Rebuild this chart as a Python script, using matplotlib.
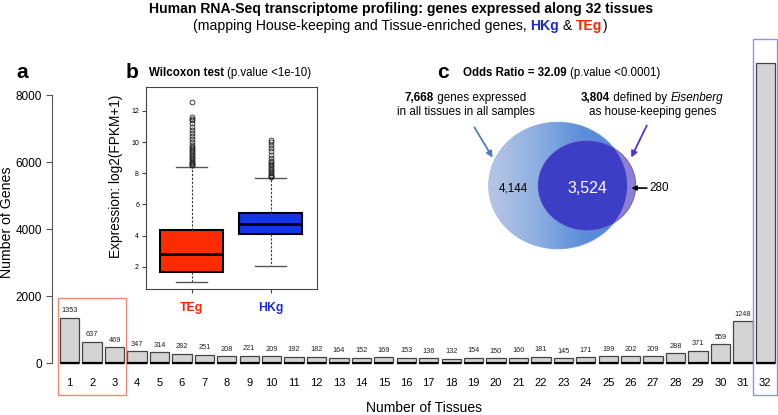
import numpy as np
import matplotlib
matplotlib.use("Agg")
import matplotlib.pyplot as plt
from matplotlib.patches import Circle, Rectangle, FancyArrowPatch
from matplotlib.colors import LinearSegmentedColormap

# panel a: genes expressed in exactly n tissues
tissues = list(range(1, 33))
genes = [1353, 637, 469, 347, 314, 282, 251, 208, 221, 209, 192, 182, 164, 152,
         169, 153, 136, 132, 154, 150, 160, 181, 145, 171, 199, 202, 209, 288,
         371, 559, 1248, 8961]

# panel b: boxplot summaries, log2(FPKM+1)
box_labels = ["TEg", "HKg"]
teg_stats = dict(whislo=1.04, q1=1.68, med=2.80, q3=4.36, whishi=8.42)
hkg_stats = dict(whislo=2.06, q1=4.08, med=4.72, q3=5.47, whishi=7.68)
teg_fliers = [8.5, 8.55, 8.6, 8.65, 8.7, 8.8, 8.9, 9.0, 9.1, 9.2, 9.3, 9.4, 9.5,
              9.6, 9.7, 9.8, 10.0, 10.2, 10.4, 10.6, 10.8, 11.0, 11.2, 11.4,
              11.5, 11.6, 12.6]
hkg_fliers = [7.75, 7.8, 7.85, 7.9, 8.0, 8.1, 8.2, 8.3, 8.4, 8.5, 8.6, 8.7, 8.8,
              9.0, 9.2, 9.4, 9.6, 9.8, 10.0, 10.15]

# panel c: venn counts
only_expressed = 4144
both = 3524
only_hk = 280

plt.rcParams["font.family"] = ["Liberation Sans", "DejaVu Sans"]

W, H = 778, 415
fig = plt.figure(figsize=(W / 100, H / 100), dpi=100)
renderer = fig.canvas.get_renderer()


def fx(x):
    return x / W


def fy(y):
    return 1 - y / H


def text_width(t):
    # measure with a trailing bar so trailing spaces are counted
    s = t.get_text()
    t.set_text(s + "|")
    w1 = t.get_window_extent(renderer).width
    t.set_text("|")
    w2 = t.get_window_extent(renderer).width
    t.set_text(s)
    return w1 - w2


def rich(x, y, parts, size, ha="center", fit=None):
    ts = [fig.text(0, 0, s, fontsize=size, va="center", ha="left", **kw) for s, kw in parts]
    ws = [text_width(t) for t in ts]
    if fit:
        k = fit / sum(ws)
        for t in ts:
            t.set_fontsize(size * k)
        ws = [text_width(t) for t in ts]
    x0 = x - sum(ws) / 2 if ha == "center" else x
    for t, w in zip(ts, ws):
        t.set_position((fx(x0), fy(y)))
        x0 += w
    return ts


# ---------------- panel a ----------------
ax = fig.add_axes([fx(51.7), fy(363), (W - 51.7) / W, (363 - 95) / H])
ax.patch.set_visible(False)
bar_w = 0.86
ax.bar(tissues, genes, width=bar_w, color="#d4d4d4", edgecolor="#444",
       linewidth=0.9, clip_on=False)
ax.hlines([0] * len(tissues), np.array(tissues) - bar_w / 2, np.array(tissues) + bar_w / 2,
          color="black", lw=1.6, clip_on=False)
for x, v in zip(tissues, genes):
    ax.annotate(str(v), (x, v), xytext=(0, 2.5), textcoords="offset points",
                ha="center", va="bottom", fontsize=5.3, color="#222")
ax.set_xlim(0.198, 32.566)
ax.set_ylim(0, 8000)
ax.set_yticks([0, 2000, 4000, 6000, 8000])
ax.set_xticks(tissues)
for s in ["top", "right", "bottom"]:
    ax.spines[s].set_visible(False)
ax.spines["left"].set_color("#555")
ax.spines["left"].set_linewidth(0.8)
ax.tick_params(axis="x", length=0, pad=11, labelsize=8)
ax.tick_params(axis="y", length=4, pad=3, labelsize=8.5, color="#555")

# highlight boxes
ax.add_patch(Rectangle((1 - 0.53, -955), 3.04, max(genes[:3]) + 600 + 955,
                       fill=False, edgecolor="#f08878", lw=1, clip_on=False))
ax.add_patch(Rectangle((32 - 0.56, -955), 1.08, genes[-1] + 710 + 955,
                       fill=False, edgecolor="#8796e6", lw=1, clip_on=False))

fig.text(fx(424), fy(408), "Number of Tissues", ha="center", va="center", fontsize=10)
fig.text(fx(7.5), fy(222), "Number of Genes", ha="center", va="center",
         rotation=90, fontsize=10.2)

# ---------------- panel b ----------------
bx = fig.add_axes([fx(146), fy(289), 171 / W, 202 / H])
stats = []
for lab, st, fl in zip(box_labels, [teg_stats, hkg_stats], [teg_fliers, hkg_fliers]):
    d = dict(st)
    d["fliers"] = fl
    d["label"] = lab
    stats.append(d)
bp = bx.bxp(stats, positions=[1, 2], widths=0.8, patch_artist=True,
            boxprops=dict(edgecolor="black", linewidth=1.5),
            medianprops=dict(color="black", linewidth=2),
            whiskerprops=dict(color="#333", linewidth=0.8, linestyle=(0, (2, 1.5))),
            capprops=dict(color="#555", linewidth=1),
            flierprops=dict(marker="o", markerfacecolor="none", markeredgecolor="#222",
                            markersize=3.5, markeredgewidth=0.6),
            capwidths=0.4)
for patch, c in zip(bp["boxes"], ["#ff2b00", "#1237e8"]):
    patch.set_facecolor(c)
bx.set_xlim(0.42, 2.59)
bx.set_ylim(0.57, 13.54)
bx.set_yticks([2, 4, 6, 8, 10, 12])
for s in bx.spines.values():
    s.set_color("#444")
    s.set_linewidth(0.8)
bx.tick_params(axis="y", labelsize=5, length=3, pad=2, color="#444")
bx.tick_params(axis="x", labelsize=8.8, length=3, pad=6.5, color="#444")
for lbl, c in zip(bx.get_xticklabels(), ["#ff2200", "#1a2bd0"]):
    lbl.set_color(c)
    lbl.set_fontweight("bold")
fig.text(fx(116), fy(176), "Expression: log2(FPKM+1)", ha="center", va="center",
         rotation=90, fontsize=9.8)

# ---------------- panel c ----------------
vx = fig.add_axes([fx(470), fy(260), 190 / W, 150 / H])
vx.axis("off")
r_big = np.sqrt((only_expressed + both) / np.pi)
r_small = np.sqrt((both + only_hk) / np.pi)
cx_small = 20.7
big = Circle((0, 0), r_big, facecolor="none", edgecolor="#8fb0e0", lw=0.8)
vx.add_patch(big)
cmap = LinearSegmentedColormap.from_list("venn", ["#b8c6e4", "#8fb0e2", "#5d8fd8", "#4f86d6"])
grad = np.linspace(0, 1, 256).reshape(1, -1)
im = vx.imshow(grad, cmap=cmap, extent=(-r_big, r_big, -r_big, r_big), aspect="auto",
               zorder=1)
im.set_clip_path(big)
vx.add_patch(Circle((cx_small, 0), r_small, facecolor="#8c80d4", edgecolor="#6f5fcc",
                    lw=0.8, zorder=2))
inner = Circle((cx_small, 0), r_small, facecolor="#3d3ec6", edgecolor="none", zorder=3)
vx.add_patch(inner)
inner.set_clip_path(big)
vx.set_xlim(-62.9, 72.9)
vx.set_ylim(-58.2, 59)
vx.text((-r_big + cx_small - r_small) / 2, -2, f"{only_expressed:,}", ha="center",
        va="center", fontsize=8.4, zorder=4)
vx.text(cx_small, -2, f"{both:,}", ha="center", va="center", fontsize=11.5,
        color="white", zorder=4)
vx.annotate(f"{only_hk:,}", xy=((r_big + cx_small + r_small) / 2, -2),
            xytext=(cx_small + r_small + 10, -2), ha="left", va="center", fontsize=8.4,
            arrowprops=dict(arrowstyle="-|>", color="black", lw=1.2,
                            mutation_scale=7, shrinkA=0, shrinkB=0), zorder=4)

fig.add_artist(FancyArrowPatch(
    (fx(473), fy(125)), (fx(494), fy(160)), transform=fig.transFigure,
    arrowstyle="-|>", mutation_scale=9, color="#4b7ec4", lw=1.3))
fig.add_artist(FancyArrowPatch(
    (fx(648), fy(123)), (fx(630), fy(160)), transform=fig.transFigure,
    arrowstyle="-|>", mutation_scale=9, color="#5533d0", lw=1.3))

rich(465, 98, [(f"{only_expressed + both:,}", dict(fontweight="bold")),
               (" genes expressed", {})], 8.4)
rich(466, 112, [("in all tissues in all samples", {})], 8.4)
rich(652, 98, [(f"{both + only_hk:,}", dict(fontweight="bold")),
               (" defined by ", {}), ("Eisenberg", dict(style="italic"))], 8.4)
rich(653, 112, [("as house-keeping genes", {})], 8.4)

# ---------------- titles ----------------
rich(401, 9, [("Human RNA-Seq transcriptome profiling: genes expressed along 32 tissues",
               dict(fontweight="bold"))], 10, fit=507)
rich(400, 26, [("(mapping House-keeping and Tissue-enriched genes, ", {}),
               ("HKg", dict(fontweight="bold", color="#1a2bd0")),
               (" & ", {}),
               ("TEg", dict(fontweight="bold", color="#ff2200")),
               (")", {})], 10, fit=413)

fig.text(fx(22), fy(73), "a", fontsize=15, fontweight="bold", ha="center", va="center")
fig.text(fx(132), fy(72), "b", fontsize=15, fontweight="bold", ha="center", va="center")
fig.text(fx(443), fy(73), "c", fontsize=15, fontweight="bold", ha="center", va="center")
rich(149, 73, [("Wilcoxon test ", dict(fontweight="bold")),
               ("(p.value <1e-10)", {})], 8.3, ha="left")
rich(463, 73, [("Odds Ratio = 32.09 ", dict(fontweight="bold")),
               ("(p.value <0.0001)", {})], 8.3, ha="left")

fig.savefig("out.png", dpi=100)
